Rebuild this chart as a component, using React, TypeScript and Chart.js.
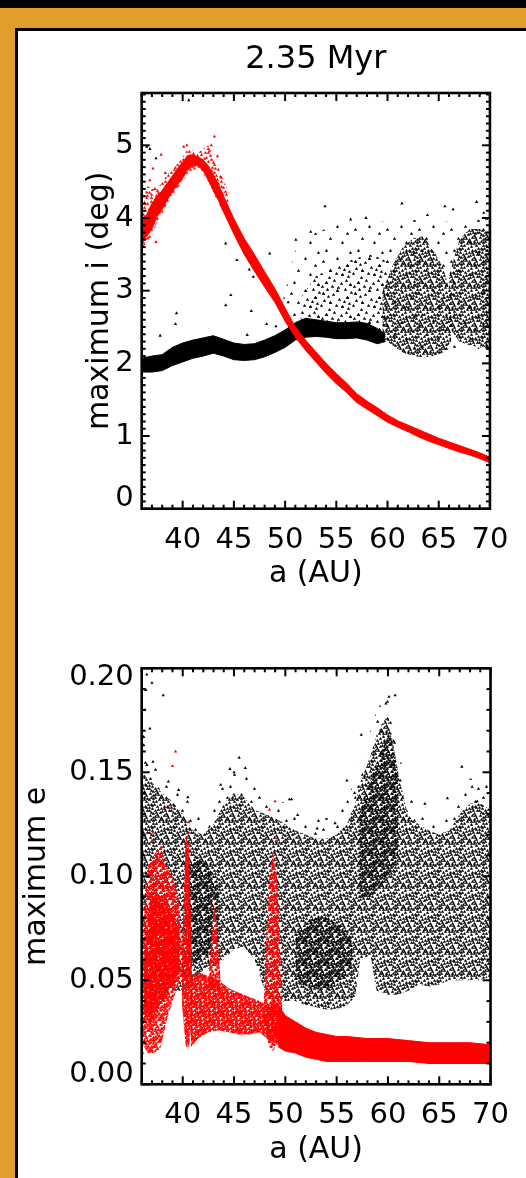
import React, { useEffect, useRef } from "react";
import { Chart, registerables } from "chart.js";

Chart.register(...registerables);

const FONT = "'DejaVu Sans', 'Liberation Sans', sans-serif";
const ORANGE = "#E19E2E";
const RED = "#FF0000";
const BLACK = "#000000";

// ---------------- axes / labels ----------------
const TITLE = "2.35 Myr";
const X_TITLE = "a (AU)";
const I_TITLE = "maximum i (deg)";
const E_TITLE = "maximum e";
const X_MIN = 36;
const X_MAX = 70;
const X_TICKS = [40, 45, 50, 55, 60, 65, 70];
const I_MIN = 0;
const I_MAX = 5.72;
const I_TICKS = [0, 1, 2, 3, 4, 5];
const E_MIN = 0;
const E_MAX = 0.2;
const E_TICKS = [0, 0.05, 0.1, 0.15, 0.2];

// ---------------- top panel: maximum i (deg) ----------------
const TOP_RED_A = [36, 36.5, 37, 37.5, 38, 38.5, 39, 39.5, 40, 40.5, 41, 41.5, 42, 42.5, 43, 43.5, 44, 45, 46, 47, 48, 49, 50, 51, 52, 53, 54, 55, 56, 57, 58, 59, 60, 61, 62, 63, 64, 65, 66, 67, 68, 69, 70];
const TOP_RED_LO = [3.68, 3.75, 3.85, 4.02, 4.12, 4.25, 4.36, 4.46, 4.55, 4.66, 4.73, 4.72, 4.65, 4.52, 4.38, 4.24, 4.08, 3.78, 3.5, 3.27, 3.05, 2.84, 2.58, 2.36, 2.18, 2.02, 1.86, 1.72, 1.6, 1.46, 1.37, 1.28, 1.19, 1.12, 1.06, 0.99, 0.93, 0.88, 0.83, 0.78, 0.74, 0.69, 0.63];
const TOP_RED_HI = [3.95, 4.05, 4.2, 4.3, 4.38, 4.48, 4.58, 4.68, 4.77, 4.86, 4.87, 4.84, 4.8, 4.72, 4.6, 4.46, 4.3, 3.99, 3.72, 3.5, 3.26, 3.03, 2.76, 2.5, 2.32, 2.16, 2.0, 1.86, 1.73, 1.58, 1.48, 1.39, 1.29, 1.21, 1.15, 1.09, 1.03, 0.97, 0.92, 0.87, 0.82, 0.77, 0.71];
const TOP_RED_HALO_A = [36, 36.5, 37, 37.5, 38, 38.5, 39.5, 40.5, 41.5, 42.5, 43.5, 44.5];
const TOP_RED_HALO_LO = [3.6, 3.65, 3.75, 3.95, 4.05, 4.2, 4.4, 4.6, 4.7, 4.5, 4.2, 3.95];
const TOP_RED_HALO_HI = [4.05, 4.45, 4.4, 4.4, 4.5, 4.6, 4.75, 4.95, 4.9, 5.0, 4.7, 4.35];
const TOP_RED_OUT_A = [36.1, 36.3, 36.5, 36.8, 37.1, 37.4, 37.9, 38.3, 40.1, 40.4, 42.8, 43.1, 42.5, 43.4, 36.6, 37.3];
const TOP_RED_OUT_I = [3.62, 4.2, 4.35, 4.52, 4.68, 3.67, 4.87, 4.62, 4.98, 5.0, 5.0, 5.12, 4.95, 4.85, 3.72, 4.4];

const TOP_BLK_A = [36, 37, 38, 39, 40, 41, 42, 43, 44, 45, 46, 47, 48, 49, 50, 51, 52, 53, 54, 55, 56, 57, 58, 59, 59.8];
const TOP_BLK_LO = [1.88, 1.88, 1.9, 1.97, 2.02, 2.07, 2.1, 2.14, 2.1, 2.05, 2.04, 2.05, 2.09, 2.15, 2.22, 2.32, 2.36, 2.37, 2.36, 2.34, 2.34, 2.35, 2.32, 2.27, 2.3];
const TOP_BLK_HI = [2.07, 2.1, 2.12, 2.22, 2.28, 2.32, 2.35, 2.38, 2.33, 2.28, 2.26, 2.27, 2.32, 2.38, 2.46, 2.56, 2.62, 2.6, 2.58, 2.56, 2.56, 2.57, 2.55, 2.48, 2.4];
const TOP_CLOUD_A = [49.5, 51, 53, 55, 57, 59, 61, 63, 65, 67, 69, 70];
const TOP_CLOUD_LO = [2.55, 2.6, 2.62, 2.6, 2.58, 2.45, 2.25, 2.15, 2.15, 2.2, 2.2, 2.2];
const TOP_CLOUD_HI = [2.7, 3.55, 3.8, 3.9, 3.95, 3.95, 3.95, 3.98, 3.95, 3.95, 3.98, 4.0];
const TOP_MID_A = [51.5, 53, 55, 57, 58.5, 60];
const TOP_MID_LO = [2.6, 2.6, 2.56, 2.56, 2.5, 2.35];
const TOP_MID_HI = [2.9, 3.2, 3.35, 3.45, 3.5, 3.4];
const TOP_D1_A = [59.5, 60.5, 61.5, 62.5, 63.5, 64.5, 65.5, 66.2];
const TOP_D1_LO = [2.35, 2.25, 2.15, 2.1, 2.08, 2.1, 2.15, 2.3];
const TOP_D1_HI = [3.0, 3.35, 3.6, 3.72, 3.75, 3.55, 3.3, 2.9];
const TOP_D2_A = [66, 67, 68, 69, 70];
const TOP_D2_LO = [2.5, 2.3, 2.25, 2.22, 2.2];
const TOP_D2_HI = [3.2, 3.7, 3.85, 3.85, 3.8];
const TOP_BLK_OUT_A = [40.6, 36.8, 37.4, 36.5, 44.2, 48.5, 45.3, 46.5, 46.9, 44.7, 39.4, 39.3, 37.8, 44.2, 46.7, 48.2, 46.3, 49.1, 50.3, 53.9, 61.4, 65.6, 68.7, 66.4, 63.9, 69.4, 56.4, 57.9, 51.05, 52.5];
const TOP_BLK_OUT_I = [5.62, 4.95, 4.82, 4.98, 3.65, 3.51, 3.42, 3.29, 3.19, 2.94, 2.69, 2.54, 2.38, 2.8, 2.72, 2.54, 2.39, 2.51, 2.84, 4.16, 4.2, 4.16, 4.22, 4.12, 4.04, 4.07, 3.98, 4.0, 3.7, 3.81];

// ---------------- bottom panel: maximum e ----------------
const BOT_BLK_A = [36, 37, 38, 39, 40, 41, 42, 43, 44, 45, 46, 47, 48, 49, 50, 51, 52, 53, 54, 55, 56, 56.8, 57.3, 58.3, 58.9, 60, 61, 62, 63, 64, 65, 66, 67, 68, 69, 70];
const BOT_BLK_LO = [0.03, 0.035, 0.04, 0.045, 0.045, 0.05, 0.055, 0.056, 0.06, 0.065, 0.066, 0.06, 0.045, 0.038, 0.04, 0.04, 0.038, 0.037, 0.036, 0.036, 0.038, 0.042, 0.06, 0.062, 0.045, 0.043, 0.043, 0.045, 0.048, 0.047, 0.048, 0.05, 0.05, 0.05, 0.05, 0.052];
const BOT_BLK_HI = [0.15, 0.145, 0.14, 0.136, 0.13, 0.122, 0.12, 0.125, 0.135, 0.14, 0.138, 0.132, 0.13, 0.128, 0.125, 0.122, 0.12, 0.118, 0.118, 0.12, 0.125, 0.135, 0.145, 0.158, 0.168, 0.178, 0.15, 0.128, 0.125, 0.122, 0.12, 0.122, 0.13, 0.135, 0.135, 0.132];
const BOT_HALO_HI = [0.16, 0.155, 0.15, 0.147, 0.14, 0.133, 0.13, 0.136, 0.147, 0.153, 0.15, 0.143, 0.14, 0.138, 0.135, 0.132, 0.13, 0.128, 0.128, 0.13, 0.136, 0.148, 0.158, 0.17, 0.18, 0.188, 0.162, 0.138, 0.135, 0.132, 0.13, 0.133, 0.142, 0.147, 0.147, 0.143];
const BOT_CORE1_A = [40.5, 41.5, 42.5, 43.5];
const BOT_CORE1_LO = [0.06, 0.058, 0.062, 0.068];
const BOT_CORE1_HI = [0.105, 0.11, 0.105, 0.095];
const BOT_CORE2_A = [51, 52.5, 54, 55.5, 56.5];
const BOT_CORE2_LO = [0.05, 0.046, 0.045, 0.05, 0.056];
const BOT_CORE2_HI = [0.072, 0.08, 0.08, 0.076, 0.07];
const BOT_CORE3_A = [57.2, 58.2, 59.2, 60.2, 61];
const BOT_CORE3_LO = [0.09, 0.09, 0.095, 0.1, 0.11];
const BOT_CORE3_HI = [0.13, 0.145, 0.158, 0.17, 0.15];
const BOT_BLK_OUT_A = [36.5, 37.0, 36.4, 38.1, 36.3, 36.8, 36.2, 36.5, 37.1, 45.5, 44.6, 46.1, 45.0, 38.6, 39.6, 40.5, 43.7, 50.6, 51.2, 57.4, 59.3, 59.0, 60.1, 60.7, 59.8, 60.55, 67.2, 68.2, 65.8, 63.6, 68.7, 50.4, 56.75, 56.0, 61.2, 53.1, 54.85, 62.1, 36.2];
const BOT_BLK_OUT_E = [0.197, 0.193, 0.1896, 0.187, 0.18, 0.171, 0.167, 0.1535, 0.155, 0.157, 0.1516, 0.152, 0.15, 0.1455, 0.1415, 0.138, 0.144, 0.137, 0.1295, 0.168, 0.17, 0.1743, 0.1863, 0.187, 0.183, 0.165, 0.1527, 0.143, 0.1375, 0.1348, 0.136, 0.137, 0.14, 0.146, 0.146, 0.123, 0.1255, 0.128, 0.163];

const BOT_RED_FLAT_A = [49.3, 50, 51, 52, 53, 54, 55, 56, 58, 60, 62, 64, 66, 68, 70];
const BOT_RED_FLAT_LO = [0.018, 0.016, 0.015, 0.013, 0.012, 0.011, 0.011, 0.011, 0.011, 0.011, 0.011, 0.01, 0.01, 0.01, 0.01];
const BOT_RED_FLAT_HI = [0.038, 0.033, 0.03, 0.027, 0.025, 0.024, 0.023, 0.023, 0.022, 0.022, 0.021, 0.02, 0.02, 0.02, 0.019];
const BOT_RED_MID_A = [40.8, 41.5, 42.5, 43.5, 44.5, 45.5, 46.5, 47.5, 48.2, 49, 49.5];
const BOT_RED_MID_LO = [0.018, 0.022, 0.025, 0.026, 0.025, 0.024, 0.024, 0.025, 0.022, 0.02, 0.018];
const BOT_RED_MID_HI = [0.052, 0.054, 0.052, 0.05, 0.046, 0.044, 0.042, 0.04, 0.038, 0.04, 0.036];
const BOT_RED_L_A = [36, 36.6, 37.2, 37.8, 38.4, 39, 39.6, 40];
const BOT_RED_L_LO = [0.02, 0.015, 0.015, 0.017, 0.03, 0.04, 0.048, 0.05];
const BOT_RED_L_HI = [0.07, 0.105, 0.11, 0.115, 0.105, 0.1, 0.09, 0.06];
const BOT_RED_CORE_A = [36.2, 36.8, 37.4, 38, 38.6, 39.2, 39.7];
const BOT_RED_CORE_LO = [0.035, 0.028, 0.035, 0.04, 0.045, 0.05, 0.055];
const BOT_RED_CORE_HI = [0.06, 0.088, 0.092, 0.09, 0.085, 0.08, 0.074];
const BOT_RED_S1_A = [39.9, 40.3, 40.6, 40.9];
const BOT_RED_S1_LO = [0.04, 0.018, 0.018, 0.03];
const BOT_RED_S1_HI = [0.06, 0.12, 0.115, 0.06];
const BOT_RED_S2_A = [42.5, 43.1, 43.7];
const BOT_RED_S2_LO = [0.045, 0.045, 0.045];
const BOT_RED_S2_HI = [0.05, 0.09, 0.05];
const BOT_RED_S3_A = [47.9, 48.4, 48.8, 49.2, 49.7];
const BOT_RED_S3_LO = [0.03, 0.018, 0.016, 0.02, 0.025];
const BOT_RED_S3_HI = [0.04, 0.1, 0.112, 0.1, 0.04];
const BOT_RED_OUT_A = [39.3, 39.0, 38.7, 40.6, 40.6, 49.0, 48.45, 49.1, 37.1, 37.0, 37.9, 36.1, 36.3];
const BOT_RED_OUT_E = [0.16, 0.153, 0.134, 0.126, 0.121, 0.136, 0.132, 0.117, 0.121, 0.117, 0.114, 0.015, 0.025];

// ---------------- texture for dense point clouds (style only) ----------------
const TEX = [[3, 5], [17, 2], [27, 9], [10, 14], [22, 18], [6, 26], [30, 28], [14, 24], [25, 1], [1, 17], [19, 11], [8, 8], [28, 20], [12, 30], [21, 27], [4, 12], [16, 17], [31, 4], [9, 21], [24, 13], [2, 30], [13, 6], [26, 24], [18, 31], [7, 1], [29, 15], [11, 19], [20, 5], [5, 23], [23, 8], [15, 11], [0, 8], [27, 30], [10, 27], [31, 22], [17, 22], [6, 16], [22, 0], [13, 1], [25, 17], [3, 20], [19, 25], [29, 10], [8, 31], [14, 14], [21, 13], [1, 26], [30, 0]];

function makePattern(color: string, n: number, tile: number, shifts: number[]): CanvasPattern {
  const c = document.createElement("canvas");
  c.width = tile;
  c.height = tile;
  const g = c.getContext("2d")!;
  g.fillStyle = color;
  const s = tile / 32;
  for (const sh of shifts) {
    for (let k = 0; k < n; k++) {
      const px = Math.round(TEX[k][0] * s + sh) % tile;
      const py = Math.round(TEX[k][1] * s + sh) % tile;
      for (const dx of [-tile, 0, tile]) {
        for (const dy of [-tile, 0, tile]) {
          const x = px + dx + 0.5;
          const y = py + dy + 0.5;
          g.beginPath();
          g.moveTo(x, y - 1.6);
          g.lineTo(x + 1.7, y + 1.3);
          g.lineTo(x - 1.7, y + 1.3);
          g.closePath();
          g.fill();
        }
      }
    }
  }
  return g.createPattern(c, "repeat")!;
}

function steps(from: number, to: number, step: number): number[] {
  const out: number[] = [];
  const n = Math.round((to - from) / step);
  for (let k = 0; k <= n; k++) out.push(+(from + k * step).toFixed(6));
  return out;
}

type DS = any;
function addBand(ds: DS[], xs: number[], lo: number[], hi: number[], fill: any, order: number, edge?: string) {
  const base = ds.length;
  const line = {
    borderColor: edge ?? "rgba(0,0,0,0)",
    borderWidth: edge ? 1 : 0,
    pointRadius: 0,
    tension: 0,
    order,
  };
  ds.push({ ...line, data: xs.map((x, k) => ({ x, y: lo[k] })), fill: false });
  ds.push({ ...line, data: xs.map((x, k) => ({ x, y: hi[k] })), fill: base, backgroundColor: fill });
}
function addPoints(ds: DS[], xs: number[], ys: number[], color: string, order: number) {
  ds.push({
    data: xs.map((x, k) => ({ x, y: ys[k] })),
    showLine: false,
    fill: false,
    pointStyle: "triangle",
    pointRadius: 1.9,
    pointBackgroundColor: color,
    pointBorderColor: color,
    pointBorderWidth: 0,
    order,
  });
}

function framePlugin(xMaj: number[], xMin: number[], yMaj: number[], yMin: number[]) {
  return {
    id: "idlFrame",
    afterDatasetsDraw(chart: any) {
      const { ctx, chartArea } = chart;
      const { left, right, top, bottom } = chartArea;
      const xs = chart.scales.x;
      const ys = chart.scales.y;
      ctx.save();
      ctx.strokeStyle = BLACK;
      ctx.lineWidth = 2;
      const seg = (x1: number, y1: number, x2: number, y2: number) => {
        ctx.beginPath();
        ctx.moveTo(x1, y1);
        ctx.lineTo(x2, y2);
        ctx.stroke();
      };
      for (const v of xMin) {
        const p = xs.getPixelForValue(v);
        const L = xMaj.includes(v) ? 8 : 4;
        seg(p, bottom, p, bottom - L);
        seg(p, top, p, top + L);
      }
      for (const v of yMin) {
        const p = ys.getPixelForValue(v);
        const L = yMaj.some((m) => Math.abs(m - v) < 1e-9) ? 8 : 4;
        seg(left, p, left + L, p);
        seg(right, p, right - L, p);
      }
      ctx.lineWidth = 2.6;
      ctx.strokeRect(left, top, right - left, bottom - top);
      ctx.restore();
    },
  };
}

const TICK_SIZE = 29;
const AXIS_TITLE_SIZE = 30;

function xScale(tickPad: number, height: number) {
  return {
    type: "linear",
    min: X_MIN,
    max: X_MAX,
    afterBuildTicks: (s: any) => {
      s.ticks = X_TICKS.map((v) => ({ value: v }));
    },
    afterFit: (s: any) => {
      s.height = height;
    },
    grid: { display: false, drawTicks: false },
    border: { display: false },
    ticks: {
      color: BLACK,
      autoSkip: false,
      maxRotation: 0,
      padding: tickPad,
      font: { family: FONT, size: TICK_SIZE, lineHeight: 1 },
      callback: (v: any) => String(v),
    },
    title: { display: true, text: X_TITLE, color: BLACK, padding: 0, font: { family: FONT, size: AXIS_TITLE_SIZE, lineHeight: 1 } },
  };
}

function yScale(min: number, max: number, ticks: number[], width: number, title: string, fmt: (v: number) => any, lh: (v: number) => number) {
  return {
    type: "linear",
    min,
    max,
    afterBuildTicks: (s: any) => {
      s.ticks = ticks.map((v) => ({ value: v }));
    },
    afterFit: (s: any) => {
      s.width = width;
    },
    grid: { display: false, drawTicks: false },
    border: { display: false },
    ticks: {
      color: BLACK,
      autoSkip: false,
      padding: 8,
      font: (c: any) => ({ family: FONT, size: TICK_SIZE, lineHeight: c.tick ? lh(c.tick.value) : 1 }),
      callback: (v: any) => fmt(Number(v)),
    },
    title: { display: true, text: title, color: BLACK, padding: 0, font: { family: FONT, size: AXIS_TITLE_SIZE, lineHeight: 1 } },
  };
}

export default function App() {
  const topRef = useRef<HTMLCanvasElement>(null);
  const botRef = useRef<HTMLCanvasElement>(null);

  useEffect(() => {
    document.body.style.margin = "0";
    const pSparse = makePattern(BLACK, 7, 32, [0]);
    const pMed = makePattern(BLACK, 26, 32, [0]);
    const pDense = makePattern(BLACK, 48, 22, [0]);
    const pShift = makePattern(BLACK, 48, 22, [11]);
    const rMed = makePattern(RED, 48, 28, [0]);
    const rDense = makePattern(RED, 48, 22, [0, 11]);
    const rVDense = makePattern(RED, 48, 18, [0, 9]);

    // ---- top chart ----
    const dsT: DS[] = [];
    addPoints(dsT, TOP_RED_OUT_A, TOP_RED_OUT_I, RED, 0);
    addBand(dsT, TOP_RED_A, TOP_RED_LO, TOP_RED_HI, RED, 1, RED);
    addBand(dsT, TOP_RED_HALO_A, TOP_RED_HALO_LO, TOP_RED_HALO_HI, rMed, 2);
    addPoints(dsT, TOP_BLK_OUT_A, TOP_BLK_OUT_I, BLACK, 3);
    addBand(dsT, TOP_BLK_A, TOP_BLK_LO, TOP_BLK_HI, BLACK, 4, BLACK);
    addBand(dsT, TOP_D1_A, TOP_D1_LO, TOP_D1_HI, pDense, 5);
    addBand(dsT, TOP_D2_A, TOP_D2_LO, TOP_D2_HI, pDense, 6);
    addBand(dsT, TOP_MID_A, TOP_MID_LO, TOP_MID_HI, pMed, 7);
    addBand(dsT, TOP_CLOUD_A, TOP_CLOUD_LO, TOP_CLOUD_HI, pSparse, 8);

    const top = new Chart(topRef.current!, {
      type: "line",
      data: { datasets: dsT },
      options: {
        animation: false,
        responsive: false,
        devicePixelRatio: 1,
        events: [],
        layout: { padding: { left: 85, right: 27, top: 0, bottom: 11 } },
        plugins: {
          legend: { display: false },
          tooltip: { enabled: false },
          title: {
            display: true,
            text: TITLE,
            fullSize: false,
            color: BLACK,
            font: { family: FONT, size: 32, weight: "normal", lineHeight: 1 },
            padding: { top: 43.6, bottom: 17.4 },
          },
        },
        scales: {
          x: xScale(17.6, 589 - 508.7),
          y: yScale(I_MIN, I_MAX, I_TICKS, 141.7 - 85, I_TITLE, (v) => (v === 0 ? ["0", ""] : String(v)), (v) => (v === 0 ? 0.72 : 1)),
        },
      } as any,
      plugins: [framePlugin(X_TICKS, steps(36, 70, 1), I_TICKS, steps(0, 5.7, 0.1))],
    } as any);

    // ---- bottom chart ----
    const dsB: DS[] = [];
    addPoints(dsB, BOT_RED_OUT_A, BOT_RED_OUT_E, RED, 0);
    addBand(dsB, BOT_RED_FLAT_A, BOT_RED_FLAT_LO, BOT_RED_FLAT_HI, RED, 1, RED);
    addBand(dsB, BOT_RED_MID_A, BOT_RED_MID_LO, BOT_RED_MID_HI, rVDense, 2);
    addBand(dsB, BOT_RED_CORE_A, BOT_RED_CORE_LO, BOT_RED_CORE_HI, rVDense, 3);
    addBand(dsB, BOT_RED_S1_A, BOT_RED_S1_LO, BOT_RED_S1_HI, rVDense, 4);
    addBand(dsB, BOT_RED_S3_A, BOT_RED_S3_LO, BOT_RED_S3_HI, rDense, 5);
    addBand(dsB, BOT_RED_S2_A, BOT_RED_S2_LO, BOT_RED_S2_HI, rDense, 6);
    addBand(dsB, BOT_RED_L_A, BOT_RED_L_LO, BOT_RED_L_HI, rDense, 7);
    addPoints(dsB, BOT_BLK_OUT_A, BOT_BLK_OUT_E, BLACK, 8);
    addBand(dsB, BOT_CORE1_A, BOT_CORE1_LO, BOT_CORE1_HI, pShift, 9);
    addBand(dsB, BOT_CORE2_A, BOT_CORE2_LO, BOT_CORE2_HI, pShift, 10);
    addBand(dsB, BOT_CORE3_A, BOT_CORE3_LO, BOT_CORE3_HI, pShift, 11);
    addBand(dsB, BOT_BLK_A, BOT_BLK_LO, BOT_BLK_HI, pDense, 12);
    addBand(dsB, BOT_BLK_A, BOT_BLK_HI, BOT_HALO_HI, pSparse, 13);

    const isEnd = (v: number, t: number) => Math.abs(v - t) < 1e-9;
    const bot = new Chart(botRef.current!, {
      type: "line",
      data: { datasets: dsB },
      options: {
        animation: false,
        responsive: false,
        devicePixelRatio: 1,
        events: [],
        layout: { padding: { left: 22, right: 27, top: 68.3, bottom: 13 } },
        plugins: { legend: { display: false }, tooltip: { enabled: false }, title: { display: false } },
        scales: {
          x: xScale(17, 565 - 484.3),
          y: yScale(
            E_MIN,
            E_MAX,
            E_TICKS,
            141.7 - 22,
            E_TITLE,
            (v) => (isEnd(v, 0) ? ["0.00", ""] : isEnd(v, 0.2) ? ["", "0.20"] : v.toFixed(2)),
            (v) => (isEnd(v, 0) || isEnd(v, 0.2) ? 0.66 : 1)
          ),
        },
      } as any,
      plugins: [framePlugin(X_TICKS, steps(36, 70, 1), E_TICKS, steps(0, 0.2, 0.01))],
    } as any);

    return () => {
      top.destroy();
      bot.destroy();
    };
  }, []);

  return (
    <div style={{ position: "fixed", left: 0, top: 0, width: 526, height: 1178, background: ORANGE, overflow: "hidden" }}>
      <div style={{ position: "absolute", left: 0, top: 0, width: 526, height: 8, background: BLACK }} />
      <div
        style={{
          position: "absolute",
          left: 15,
          top: 28,
          width: 511,
          height: 1150,
          boxSizing: "border-box",
          background: "#fff",
          borderLeft: "3px solid #000",
          borderTop: "3px solid #000",
        }}
      />
      <canvas ref={topRef} width={526} height={600} style={{ position: "absolute", left: 0, top: 0, width: 526, height: 600 }} />
      <canvas ref={botRef} width={526} height={578} style={{ position: "absolute", left: 0, top: 600, width: 526, height: 578 }} />
    </div>
  );
}
